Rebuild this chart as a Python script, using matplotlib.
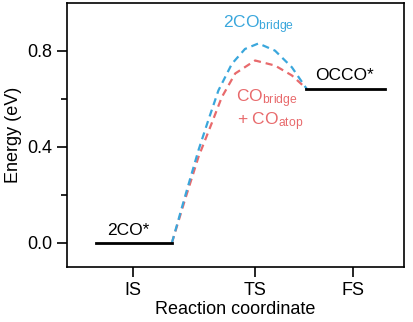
import matplotlib.pyplot as plt

plt.rcParams['font.family'] = ['Liberation Sans', 'DejaVu Sans']
plt.rcParams['mathtext.default'] = 'regular'

# --- DATA ---
tick_pos = [1.96, 5.58, 8.49]
tick_labels = ['IS', 'TS', 'FS']

is_x = [0.86, 3.12]
is_e = [0.0, 0.0]
fs_x = [7.09, 9.44]
fs_e = [0.64, 0.64]

blue_x = [3.11, 3.50, 3.90, 4.19, 4.49, 4.89, 5.28, 5.68, 6.17, 6.67, 7.11]
blue_e = [0.0, 0.193, 0.386, 0.510, 0.634, 0.745, 0.807, 0.830, 0.800, 0.731, 0.641]

red_x = [3.11, 3.50, 3.90, 4.29, 4.59, 4.99, 5.58, 6.17, 6.67, 7.11]
red_e = [0.0, 0.18, 0.358, 0.497, 0.606, 0.705, 0.759, 0.738, 0.697, 0.641]

blue = '#3aa7dc'
red = '#e86a6c'

# --- PLOTTING ---
fig = plt.figure(figsize=(4.14, 3.22), dpi=100)
ax = fig.add_axes([0.162, 0.171, 0.814, 0.821])

ax.plot(red_x, red_e, color=red, lw=1.6, ls=(0, (3.2, 2.2)))
ax.plot(blue_x, blue_e, color=blue, lw=1.6, ls=(0, (3.2, 2.2)))
ax.plot(is_x, is_e, color='black', lw=2)
ax.plot(fs_x, fs_e, color='black', lw=2)

ax.text(1.18, 0.033, '2CO*', fontsize=12.5, ha='left', va='baseline')
ax.text(7.36, 0.676, 'OCCO*', fontsize=12.5, ha='left', va='baseline')
ax.text(4.62, 0.894, '2CO$_{bridge}$', fontsize=12.5, color=blue, ha='left', va='baseline')
ax.text(5.01, 0.584, 'CO$_{bridge}$', fontsize=12.5, color=red, ha='left', va='baseline')
ax.text(5.03, 0.489, '+ CO$_{atop}$', fontsize=12.5, color=red, ha='left', va='baseline')

ax.set_xlim(0, 10)
ax.set_ylim(-0.1, 1.0)
ax.set_xticks(tick_pos)
ax.set_xticklabels(tick_labels)
ax.set_yticks([0.0, 0.4, 0.8])
ax.set_yticklabels(['0.0', '0.4', '0.8'])
ax.set_yticks([0.2, 0.6], minor=True)
ax.tick_params(axis='both', which='major', length=7, width=1.2, labelsize=13, direction='out')
ax.tick_params(axis='y', which='minor', length=4, width=1.2, direction='out')
ax.set_xlabel('Reaction coordinate', fontsize=13, labelpad=2)
ax.set_ylabel('Energy (eV)', fontsize=13, labelpad=4)
for s in ax.spines.values():
    s.set_linewidth(1.2)

fig.savefig('out.png', dpi=100)
